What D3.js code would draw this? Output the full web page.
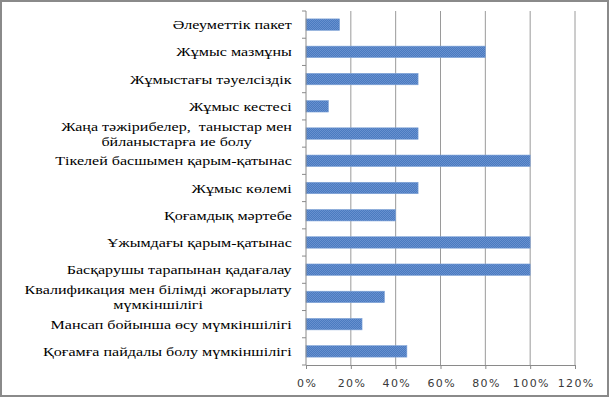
<!DOCTYPE html>
<html>
<head>
<meta charset="utf-8">
<script src="https://cdn.jsdelivr.net/npm/d3@7/dist/d3.min.js"></script>
<style>
  body { margin: 0; background: #fff; }
  svg { display: block; }
</style>
</head>
<body>
<div id="chart"></div>
<script>
const categories = [
    ['Әлеуметтік пакет'],
    ['Жұмыс мазмұны'],
    ['Жұмыстағы тәуелсіздік'],
    ['Жұмыс кестесі'],
    ['Жаңа тәжірибелер,  таныстар мен', 'бйланыстарға ие болу'],
    ['Тікелей басшымен қарым-қатынас'],
    ['Жұмыс көлемі'],
    ['Қоғамдық мәртебе'],
    ['Ұжымдағы қарым-қатынас'],
    ['Басқарушы тарапынан қадағалау'],
    ['Квалификация мен білімді жоғарылату', 'мүмкіншілігі'],
    ['Мансап бойынша өсу мүмкіншілігі'],
    ['Қоғамға пайдалы болу мүмкіншілігі']
];
const values = [0.15, 0.80, 0.50, 0.10, 0.50, 1.00, 0.50, 0.40, 1.00, 1.00, 0.35, 0.25, 0.45];
const xTicks = [0, 0.2, 0.4, 0.6, 0.8, 1.0, 1.2];

const W = 610, H = 398;
const m = { left: 306, right: 35, top: 11, bottom: 33 };
const labelRight = 292;

const svg = d3.select('#chart').append('svg')
    .attr('width', W)
    .attr('height', H);

// fine dithered blue fill like the original
const pat = svg.append('defs').append('pattern')
    .attr('id', 'hatch')
    .attr('patternUnits', 'userSpaceOnUse')
    .attr('width', 2).attr('height', 2);
pat.append('rect').attr('width', 2).attr('height', 2).attr('fill', '#4a7bc0');
pat.append('rect').attr('width', 1).attr('height', 1).attr('fill', '#6890cf');
pat.append('rect').attr('x', 1).attr('y', 1).attr('width', 1).attr('height', 1).attr('fill', '#6890cf');

svg.append('rect')
    .attr('x', 1).attr('y', 1)
    .attr('width', W - 3).attr('height', H - 3)
    .attr('fill', '#fff')
    .attr('stroke', '#8a8a8a')
    .attr('stroke-width', 2);

const x = d3.scaleLinear()
    .domain([0, 1.2])
    .range([m.left, W - m.right]);

const y = d3.scaleBand()
    .domain(d3.range(categories.length))
    .range([m.top, H - m.bottom])
    .paddingInner(0.58)
    .paddingOuter(0.29);

const g = svg.append('g');

// gridlines
g.selectAll('.grid')
    .data(xTicks.slice(1))
    .enter()
    .append('line')
        .attr('x1', d => x(d)).attr('x2', d => x(d))
        .attr('y1', m.top).attr('y2', H - m.bottom)
        .attr('stroke', '#9a9a9a')
        .attr('stroke-width', 1);

// bars
g.selectAll('.bar')
    .data(values)
    .enter()
    .append('rect')
        .attr('x', x(0))
        .attr('y', (d, i) => y(i))
        .attr('width', d => x(d) - x(0))
        .attr('height', y.bandwidth())
        .attr('fill', 'url(#hatch)')
        .attr('stroke', '#7ea2d6')
        .attr('stroke-width', 0.6);

// y axis with tick marks at band boundaries
const step = (H - m.bottom - m.top) / categories.length;
const yAx = g.append('g').attr('stroke', '#8a8a8a');
yAx.append('line')
    .attr('x1', x(0)).attr('x2', x(0))
    .attr('y1', m.top).attr('y2', H - m.bottom);
yAx.selectAll('.yt')
    .data(d3.range(categories.length + 1))
    .enter()
    .append('line')
        .attr('x1', x(0) - 4).attr('x2', x(0))
        .attr('y1', i => m.top + i * step)
        .attr('y2', i => m.top + i * step);

// x axis
const xAxis = g.append('g')
    .attr('transform', `translate(0, ${H - m.bottom})`)
    .call(d3.axisBottom(x).tickValues(xTicks).tickFormat(d3.format('.0%')).tickSizeOuter(0).tickSize(4).tickPadding(10));
xAxis.select('.domain').attr('stroke', '#8a8a8a');
xAxis.selectAll('.tick line').attr('stroke', '#8a8a8a');
xAxis.selectAll('.tick text')
    .style('font-family', "'DejaVu Sans'")
    .style('font-size', '11px')
    .style('letter-spacing', '1.4px')
    .attr('fill', '#3a3a3a')
    .attr('dx', '0.7px');

// category labels (the original text is stretched horizontally)
const labels = g.selectAll('.lbl')
    .data(categories)
    .enter()
    .append('text')
        .attr('text-anchor', 'middle')
        .style('font-family', "'Liberation Serif'")
        .style('font-size', '13px')
        .style('white-space', 'pre')
        .attr('fill', '#000');

labels.each(function(d) {
    const t = d3.select(this);
    d.forEach((line, k) => {
        t.append('tspan').attr('x', 0).attr('dy', k === 0 ? 0 : 14.5).text(line);
    });
});

// horizontal stretch from the widest single line (Тікелей ... ~237px in the original)
const refW = labels.filter((d, i) => i === 5).node().getBBox().width;
const sx = 237 / refW;

labels.attr('transform', function(d, i) {
    const bb = this.getBBox();
    const cy = y(i) + y.bandwidth() / 2;
    const off = d.length > 1 ? -2.5 : 4.5;
    const cx = labelRight - bb.width * sx / 2;
    return `translate(${cx}, ${cy + off}) scale(${sx}, 1)`;
});
</script>
</body>
</html>
